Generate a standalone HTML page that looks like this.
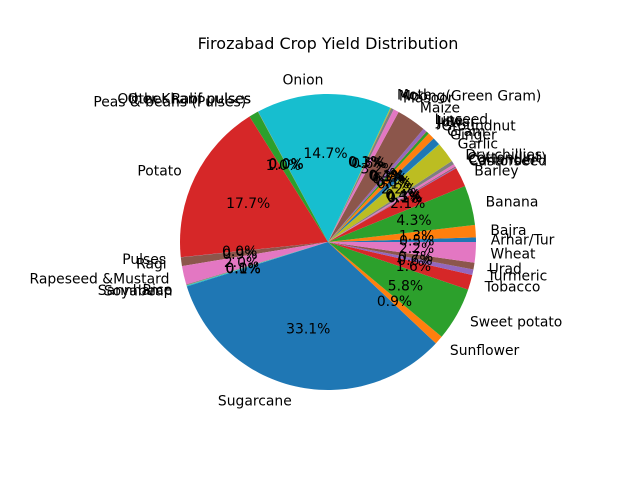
<!DOCTYPE html>
<html><head><meta charset="utf-8"><style>
body{margin:0;background:#fff;font-family:"Liberation Sans","DejaVu Sans",sans-serif;}
svg text{font-family:"DejaVu Sans","Liberation Sans",sans-serif;}
</style></head><body>
<svg id="chart" width="640" height="480" viewBox="0 0 640 480">
<rect width="640" height="480" fill="#fff"/>
<text x="328" y="49" font-size="16" text-anchor="middle">Firozabad Crop Yield Distribution</text>
<g id="wedges"></g><g id="labels"></g>
</svg>
<script>
const categories=["Arhar/Tur","Bajra","Banana","Barley","Castorseed","Coriander","Cotton(lint)","Dry chillies","Garlic","Ginger","Gram","Groundnut","Jowar","Jute","Linseed","Maize","Masoor","Moong(Green Gram)","Moth","Onion","Other Kharif pulses","Other Rabi pulses","Peas & beans (Pulses)","Potato","Pulses","Ragi","Rapeseed &Mustard","Rice","Sannhamp","Soyabean","Sugarcane","Sunflower","Sweet potato","Tobacco","Turmeric","Urad","Wheat"];
const values=[0.5,1.34,4.34,2.14,0.1,0.1,0.3,0.4,2.24,0.05,0.84,0.74,0.3,0.05,0.4,3.24,0.6,0.3,0.1,14.74,0.02,0.02,1.04,17.74,0.02,0.94,2.04,0.1,0.02,0.1,33.14,0.94,5.84,1.64,0.6,0.74,2.24];
const colors=["#1f77b4","#ff7f0e","#2ca02c","#d62728","#9467bd","#8c564b","#e377c2","#7f7f7f","#bcbd22","#17becf"];
const cx=328,cy=242,R=148,NS="http://www.w3.org/2000/svg";
const total=values.reduce((a,b)=>a+b,0);
const wg=document.getElementById('wedges'),lg=document.getElementById('labels');
function pt(r,a){return [cx+r*Math.cos(a),cy-r*Math.sin(a)];}
let start=0;
values.forEach((v,i)=>{
  const sweep=v/total*2*Math.PI,end=start+sweep;
  const p1=pt(R,start),p2=pt(R,end);
  const path=document.createElementNS(NS,'path');
  path.setAttribute('d',`M${cx},${cy}L${p1[0]},${p1[1]}A${R},${R} 0 ${sweep>Math.PI?1:0} 0 ${p2[0]},${p2[1]}Z`);
  path.setAttribute('fill',colors[i%10]);
  
  
  wg.appendChild(path);
  const mid=(start+end)/2;
  const lp=pt(R*1.1,mid);
  const t=document.createElementNS(NS,'text');
  t.setAttribute('x',lp[0]);t.setAttribute('y',lp[1]+5);t.setAttribute('font-size','13.9');
  t.setAttribute('text-anchor',Math.cos(mid)>=0?'start':'end');
  t.textContent=categories[i];
  
  
  lg.appendChild(t);
  const pp=pt(R*0.6,mid);
  const p=document.createElementNS(NS,'text');
  p.setAttribute('x',pp[0]);p.setAttribute('y',pp[1]+5);p.setAttribute('font-size','13.9');
  p.setAttribute('text-anchor','middle');
  p.textContent=(v/total*100).toFixed(1)+'%';
  
  
  lg.appendChild(p);
  start=end;
});
</script>
</body></html>
